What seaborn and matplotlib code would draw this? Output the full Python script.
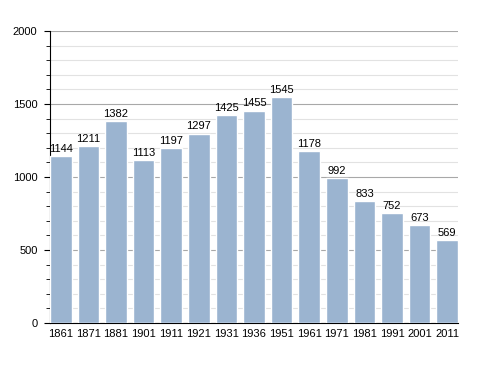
import matplotlib
matplotlib.use("Agg")
import matplotlib.pyplot as plt
import seaborn as sns
import pandas as pd
from matplotlib.ticker import MultipleLocator

years = ["1861", "1871", "1881", "1901", "1911", "1921", "1931", "1936",
         "1951", "1961", "1971", "1981", "1991", "2001", "2011"]
population = [1144, 1211, 1382, 1113, 1197, 1297, 1425, 1455,
              1545, 1178, 992, 833, 752, 673, 569]

df = pd.DataFrame({"year": years, "pop": population})

sns.set_style("white")
plt.rcParams['font.family'] = ['Liberation Sans', 'DejaVu Sans']
plt.rcParams['text.color'] = 'black'
plt.rcParams['xtick.color'] = 'black'
plt.rcParams['ytick.color'] = 'black'

fig = plt.figure(figsize=(4.88, 3.73), dpi=100)
ax = fig.add_axes([0.1025, 0.134, 0.836, 0.783])

w = 0.78
sns.barplot(data=df, x="year", y="pop", color="#9bb4d0", saturation=1,
            width=w, ax=ax, zorder=3)

for i, v in enumerate(population):
    ax.text(i, v + 15, str(v), ha="center", va="bottom", fontsize=8, color="black", zorder=4)

ax.set_ylim(0, 2000)
ax.set_xlim(-w / 2, len(years) - 1 + w / 2)
ax.yaxis.set_major_locator(MultipleLocator(500))
ax.yaxis.set_minor_locator(MultipleLocator(100))
ax.grid(which="major", axis="y", color="#a8a8a8", linewidth=0.8, zorder=0)
ax.grid(which="minor", axis="y", color="#e2e2e2", linewidth=0.8, zorder=0)
ax.set_axisbelow(True)

for s in ["top", "right"]:
    ax.spines[s].set_visible(False)
ax.spines["left"].set_color("black")
ax.spines["bottom"].set_color("black")
ax.spines["left"].set_linewidth(0.8)
ax.spines["bottom"].set_linewidth(0.8)

ax.tick_params(axis="y", which="major", left=True, length=4, width=0.8, labelsize=8, pad=5)
ax.tick_params(axis="y", which="minor", left=True, length=3, width=0.6)
ax.tick_params(axis="x", bottom=False, labelsize=8, pad=1)
ax.set_xlabel("")
ax.set_ylabel("")

fig.savefig("out.png", dpi=100)
